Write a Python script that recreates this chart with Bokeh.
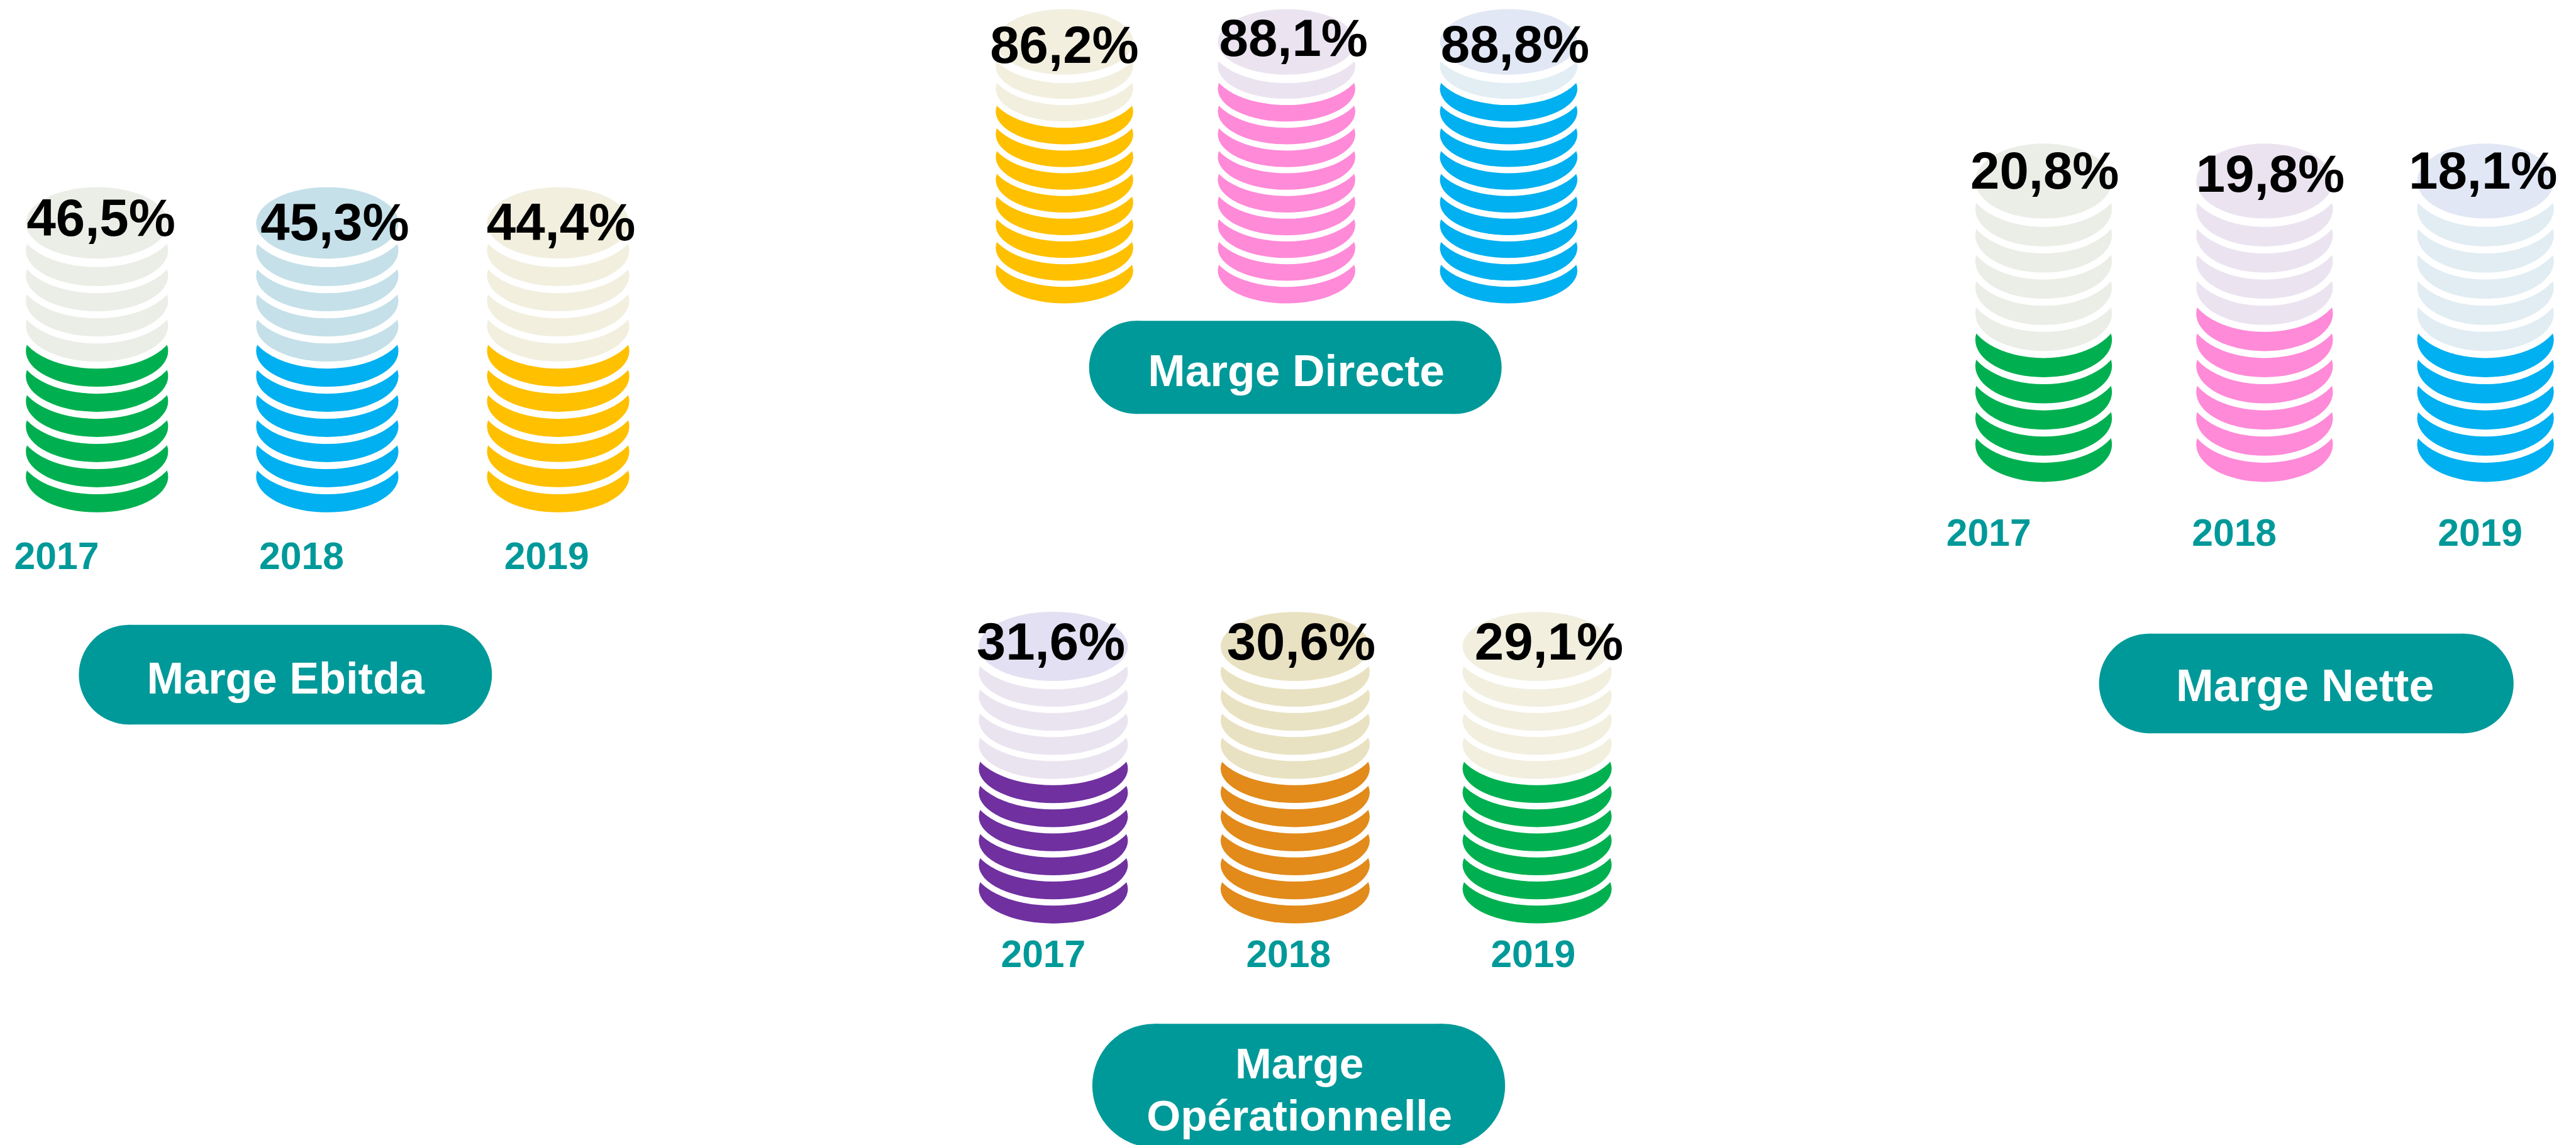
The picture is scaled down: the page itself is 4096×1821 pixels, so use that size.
from bokeh.plotting import figure
from bokeh.models import Range1d
from bokeh.core.properties import value
from bokeh.embed import file_html
from bokeh.resources import INLINE

# ---------- data ----------
years = ["2017", "2018", "2019"]

ebitda_labels = ["46,5%", "45,3%", "44,4%"]
directe_labels = ["86,2%", "88,1%", "88,8%"]
oper_labels = ["31,6%", "30,6%", "29,1%"]
nette_labels = ["20,8%", "19,8%", "18,1%"]

# coins in a stack: 11; number of strong-coloured ones
ebitda_filled = [6, 6, 6]
directe_filled = [8, 9, 9]
oper_filled = [6, 6, 6]
nette_filled = [5, 6, 5]
coins_total = 11

GREEN, BLUE, YELLOW, PINK, PURPLE, ORANGE = "#00b050", "#00b0f0", "#ffc000", "#ff8ad8", "#7030a0", "#e28a1a"
TEAL = "#009999"

panels = [
    dict(title=["Marge Ebitda"], labels=ebitda_labels, filled=ebitda_filled,
         colors=[GREEN, BLUE, YELLOW], pale=["#ebeee6", "#c5e0e9", "#f2efdf"], top=["#ebeee6", "#c5e0e9", "#f2efdf"],
         cx=[165, 558, 952], rx=121.4, ry=61, top_cy=380, last_bottom=874, step=42.9, halo=12,
         label_x=[47, 446, 832], label_base=[403, 411, 411],
         year_x=[25.7, 443.7, 862], year_base=969,
         pill=(134, 839, 1066, 1236), title_x=487, title_base=[1180], title_size=75.5),
    dict(title=["Marge Directe"], labels=directe_labels, filled=directe_filled,
         colors=[YELLOW, PINK, BLUE], pale=["#f2efdf", "#ebe4f0", "#e2eef3"], top=["#f2efdf", "#ebe4f0", "#e1e7f4"],
         cx=[1816, 2195, 2574], rx=117.3, ry=56, top_cy=71, last_bottom=517.4, step=38.8, halo=10.6,
         label_x=[1691, 2082, 2460], label_base=[108, 96.4, 106.5],
         year_x=None, year_base=None,
         pill=(1858, 2562, 547, 706), title_x=2211.5, title_base=[655.6], title_size=76.5),
    dict(title=["Marge", "Opérationnelle"], labels=oper_labels, filled=oper_filled,
         colors=[PURPLE, ORANGE, GREEN], pale=["#eae4f0", "#e9e2c2", "#f2efdf"], top=["#e3e0f3", "#e9e2c2", "#f2efdf"],
         cx=[1797, 2209.7, 2622.6], rx=127.2, ry=59, top_cy=1102.8, last_bottom=1575.7, step=41.1, halo=10.7,
         label_x=[1668, 2095, 2518], label_base=[1126, 1126, 1126],
         year_x=[1709.5, 2128, 2545.5], year_base=1648,
         pill=(1863.5, 2568, 1747, 1958), title_x=2217, title_base=[1837.7, 1926.5], title_size=74.5),
    dict(title=["Marge Nette"], labels=nette_labels, filled=nette_filled,
         colors=[GREEN, PINK, BLUE], pale=["#ebeee6", "#ebe4f0", "#e1edf2"], top=["#ebeee6", "#ebe4f0", "#e1e7f4"],
         cx=[3487, 3864, 4241], rx=116.6, ry=64, top_cy=308.5, last_bottom=822, step=44.65, halo=12,
         label_x=[3364, 3749, 4112], label_base=[322.8, 328, 323],
         year_x=[3323, 3742, 4161.6], year_base=929.5,
         pill=(3581.5, 4289, 1081, 1251), title_x=3933, title_base=[1193.5], title_size=77),
]

SCALE = 4096 / 4396
W, H = 4096, 1821
TOP_HALO = 14.3
FONT = value("Liberation Sans")
LABEL_SIZE, YEAR_SIZE = 89.5, 65
LABEL_SHIFT, YEAR_SHIFT, TITLE_SHIFT = 0.355, 0.32, 0.31   # em: anchor lift so drawn baselines land as read

p = figure(width=W, height=H, output_backend="svg", toolbar_location=None,
           x_range=Range1d(0, W / SCALE), y_range=Range1d(H / SCALE, 0),
           min_border=0, outline_line_color=None, background_fill_color="white",
           border_fill_color="white")
p.axis.visible = False
p.grid.visible = False


def px(ref):
    return f"{ref * SCALE:.1f}px"


for g in panels:
    for i, cx in enumerate(g["cx"]):
        # bottom-up: each coin gets a white rim that bites into the coin below
        for k in range(coins_total):
            bottom = g["last_bottom"] - k * g["step"]
            is_top = k == coins_total - 1
            if is_top:
                cy = g["top_cy"]
                col = g["top"][i]
                halo = TOP_HALO
            else:
                cy = bottom - g["ry"]
                col = g["colors"][i] if k < g["filled"][i] else g["pale"][i]
                halo = g["halo"]
            p.ellipse(x=[cx], y=[cy], width=2 * (g["rx"] + halo), height=2 * (g["ry"] + halo),
                      fill_color="white", line_color=None)
            p.ellipse(x=[cx], y=[cy], width=2 * g["rx"], height=2 * g["ry"],
                      fill_color=col, line_color=None)
        p.text(x=[g["label_x"][i] - 2], y=[g["label_base"][i] - LABEL_SHIFT * LABEL_SIZE], text=[g["labels"][i]],
               text_font=FONT, text_font_style="bold", text_font_size=px(LABEL_SIZE),
               text_color="black", text_align="left", text_baseline="alphabetic")
        if g["year_x"]:
            p.text(x=[g["year_x"][i] - 2], y=[g["year_base"] - YEAR_SHIFT * YEAR_SIZE], text=[years[i]],
                   text_font=FONT, text_font_style="bold", text_font_size=px(YEAR_SIZE),
                   text_color=TEAL, text_align="left", text_baseline="alphabetic")
    l, r, t, b = g["pill"]
    rad = (b - t) / 2
    p.quad(left=[l + rad], right=[r - rad], top=[t], bottom=[b], fill_color=TEAL, line_color=None)
    p.ellipse(x=[l + rad, r - rad], y=[(t + b) / 2] * 2, width=2 * rad, height=2 * rad,
              fill_color=TEAL, line_color=None)
    for line, base in zip(g["title"], g["title_base"]):
        p.text(x=[g["title_x"]], y=[base - TITLE_SHIFT * g["title_size"]], text=[line], text_font=FONT,
               text_font_style="bold", text_font_size=px(g["title_size"]), text_color="white",
               text_align="center", text_baseline="alphabetic")

open("out.html", "w").write(file_html(p, INLINE))
